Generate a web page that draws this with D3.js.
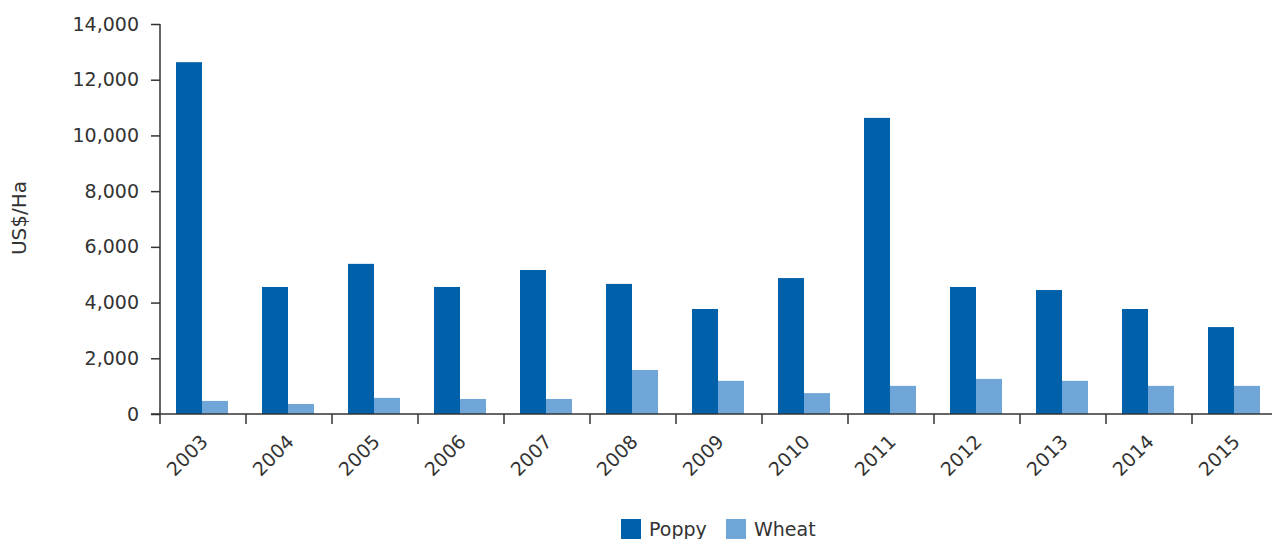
<!DOCTYPE html>
<html>
<head>
<meta charset="utf-8">
<script src="https://cdn.jsdelivr.net/npm/d3@7"></script>
<style>
  body { margin: 0; background: #fff; }
  text { font-family: "DejaVu Sans", sans-serif; fill: #333; }
</style>
</head>
<body>
<div class="chart"></div>
<script>
// values (US$ per hectare)
const years = ['2003', '2004', '2005', '2006', '2007', '2008', '2009', '2010', '2011', '2012', '2013', '2014', '2015'];
const poppy = [12630, 4560, 5390, 4560, 5170, 4670, 3770, 4880, 10630, 4560, 4450, 3770, 3120];
const wheat = [470, 360, 580, 540, 540, 1580, 1190, 750, 1010, 1260, 1190, 1010, 1010];
const seriesNames = ['Poppy', 'Wheat'];
const yTicks = [0, 2000, 4000, 6000, 8000, 10000, 12000, 14000];

const width = 1272, height = 539;
const colours = { Poppy: '#0061aa', Wheat: '#70a5d7' };

const svg = d3.select('.chart').append('svg')
  .attr('width', width)
  .attr('height', height);

const x = d3.scaleBand()
  .domain(years)
  .range([160, 1278])
  .padding(0);

const x1 = d3.scaleBand()
  .domain(seriesNames)
  .range([16, 68]);

const y = d3.scaleLinear()
  .domain([0, 14000])
  .range([414, 24]);

const rows = years.map((yr, i) => ({ year: yr, Poppy: poppy[i], Wheat: wheat[i] }));

// bars
const groups = svg.selectAll('g.year')
  .data(rows)
  .enter()
  .append('g')
  .attr('class', 'year')
  .attr('transform', d => `translate(${x(d.year)},0)`);

groups.selectAll('rect')
  .data(d => seriesNames.map(s => ({ key: s, value: d[s] })))
  .enter()
  .append('rect')
  .attr('x', d => x1(d.key))
  .attr('width', x1.bandwidth())
  .attr('y', d => y(d.value))
  .attr('height', d => y(0) - y(d.value))
  .style('fill', d => colours[d.key]);

// y axis
const yAxis = d3.axisLeft(y)
  .tickValues(yTicks)
  .tickSize(9)
  .tickPadding(12)
  .tickFormat(d3.format(','));

const yg = svg.append('g')
  .attr('transform', 'translate(160,0)')
  .call(yAxis);
yg.select('.domain').remove();
yg.selectAll('.tick line').style('stroke', '#333').style('stroke-width', 1.5);
yg.selectAll('.tick text')
  .style('font-size', '19px')
  .style('fill', '#333')
  .style('font-family', '"DejaVu Sans", sans-serif');

svg.append('line')
  .attr('x1', 160).attr('x2', 160)
  .attr('y1', y(14000)).attr('y2', y(0) + 10)
  .style('stroke', '#333')
  .style('stroke-width', 1.5);

// x axis
svg.append('line')
  .attr('x1', 151).attr('x2', width)
  .attr('y1', y(0)).attr('y2', y(0))
  .style('stroke', '#333')
  .style('stroke-width', 1.5);

const bounds = years.map(d => x(d)).concat([x(years[years.length - 1]) + x.bandwidth()]);
svg.selectAll('line.xtick')
  .data(bounds.slice(1))
  .enter()
  .append('line')
  .attr('class', 'xtick')
  .attr('x1', d => d).attr('x2', d => d)
  .attr('y1', y(0)).attr('y2', y(0) + 10)
  .style('stroke', '#333')
  .style('stroke-width', 1.5);

svg.selectAll('text.xlabel')
  .data(years)
  .enter()
  .append('text')
  .attr('class', 'xlabel')
  .attr('transform', d => `translate(${x(d) + x.bandwidth() / 2 + 6},443) rotate(-45)`)
  .style('text-anchor', 'end')
  .style('font-size', '19px')
  .text(d => d);

// y axis title
svg.append('text')
  .attr('transform', 'translate(26,218) rotate(-90)')
  .style('text-anchor', 'middle')
  .style('font-size', '20px')
  .text('US$/Ha');

// legend
const legend = svg.append('g').attr('transform', 'translate(621,519)');
const items = legend.selectAll('g')
  .data(seriesNames)
  .enter()
  .append('g')
  .attr('transform', (d, i) => `translate(${i * 105},0)`);
items.append('rect')
  .attr('width', 20)
  .attr('height', 20)
  .style('fill', d => colours[d]);
items.append('text')
  .attr('x', 28)
  .attr('y', 17)
  .style('font-size', '19px')
  .text(d => d);
</script>
</body>
</html>
